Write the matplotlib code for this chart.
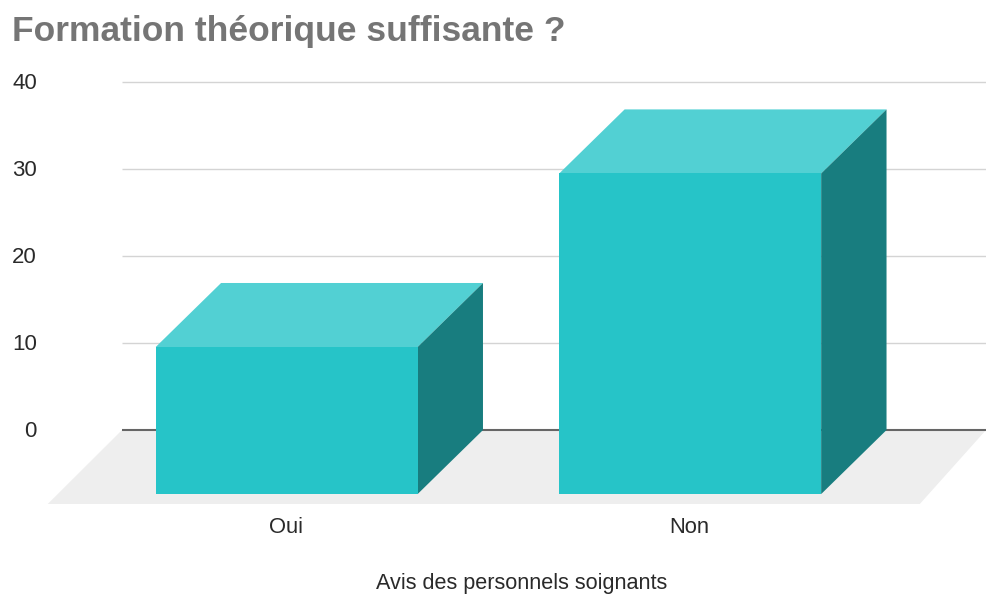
#!/usr/bin/env python

import matplotlib as mpl
mpl.use('Agg')
import matplotlib.pyplot as plt
from matplotlib.patches import Polygon

categories = ['Oui', 'Non']
values = [16.9, 36.85]
y_ticks = [0, 10, 20, 30, 40]

title = 'Formation théorique suffisante ?'
x_label = 'Avis des personnels soignants'

FRONT = '#26c4c8'
TOP = '#52d0d3'
SIDE = '#187d7f'
FLOOR = '#eeeeee'
GRID = '#d4d4d4'

W, H = 986, 594
bar_w = 0.649
dx, dy = -0.162, -7.36  # offset of the front face from the back face


def px_y(p):
    return 1 - p / H


plt.rcParams['font.family'] = ['Liberation Sans', 'DejaVu Sans']
fig = plt.figure(figsize=(W / 100, H / 100), dpi=100)
# axes box spans the grid: y=40 at px 82, y=-8.5 at px 504
ax = fig.add_axes([122 / W, px_y(504), (986 - 122) / W, (504 - 82) / H])
ax.set_xlim(-0.570, 1.571)
ax.set_ylim(-8.5, 40)
ax.axis('off')

for t in y_ticks:
    color = '#666666' if t == 0 else GRID
    lw = 1.5 if t == 0 else 1.0
    ax.plot([-0.570, 1.571], [t, t], color=color, lw=lw, zorder=1, clip_on=False,
            solid_capstyle='butt')
    ax.text(-0.570 - 85 / 403.5, t - 0.13, str(t), ha='right', va='center', fontsize=16,
            color='#2a2a2a')

# floor
floor = [(-0.570, 0), (1.571, 0), (1.571 + dx - 0.002, -8.5), (-0.570 + dx - 0.022, -8.5)]
ax.add_patch(Polygon(floor, closed=True, fc=FLOOR, ec='none', zorder=0, clip_on=False))

for i, v in enumerate(values):
    l, r = i - bar_w / 2, i + bar_w / 2
    top = [(l + dx, v + dy), (r + dx, v + dy), (r, v), (l, v)]
    side = [(r + dx, dy), (r, 0), (r, v), (r + dx, v + dy)]
    front = [(l + dx, dy), (r + dx, dy), (r + dx, v + dy), (l + dx, v + dy)]
    ax.add_patch(Polygon(top, closed=True, fc=TOP, ec='none', zorder=3, clip_on=False))
    ax.add_patch(Polygon(side, closed=True, fc=SIDE, ec='none', zorder=3, clip_on=False))
    ax.add_patch(Polygon(front, closed=True, fc=FRONT, ec='none', zorder=4, clip_on=False))
    ax.text(i + dx - 0.002, -11.2, categories[i], ha='center', va='center', fontsize=15.8,
            color='#2a2a2a')

fig.text(12 / W, px_y(31), title, fontsize=25.5, fontweight='bold', color='#757575',
         ha='left', va='center')
fig.text(521.5 / W, px_y(584), x_label, fontsize=15.6, color='#2a2a2a', ha='center', va='center')

fig.savefig('out.png', dpi=100)
